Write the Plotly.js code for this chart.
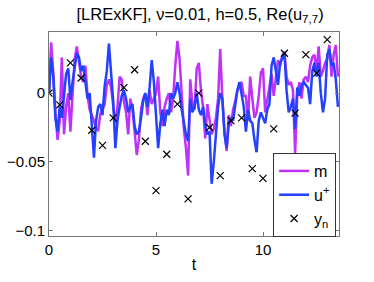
<!DOCTYPE html>
<html><head><meta charset="utf-8">
<script src="https://cdn.plot.ly/plotly-3.0.1.min.js"></script>
<style>body{margin:0;padding:0;background:#fff}#chart{width:374px;height:282px}</style>
</head><body><div id="chart"></div>
<script>
// time grid for the two estimates (step 0.1)
const tLine = [0.0,0.1,0.2,0.3,0.4,0.5,0.6,0.7,0.8,0.9,1.0,1.1,1.2,1.3,1.4,1.5,1.6,1.7,1.8,1.9,2.0,2.1,2.2,2.3,2.4,2.5,2.6,2.7,2.8,2.9,3.0,3.1,3.2,3.3,3.4,3.5,3.6,3.7,3.8,3.9,4.0,4.1,4.2,4.3,4.4,4.5,4.6,4.7,4.8,4.9,5.0,5.1,5.2,5.3,5.4,5.5,5.6,5.7,5.8,5.9,6.0,6.1,6.2,6.3,6.4,6.5,6.6,6.7,6.8,6.9,7.0,7.1,7.2,7.3,7.4,7.5,7.6,7.7,7.8,7.9,8.0,8.1,8.2,8.3,8.4,8.5,8.6,8.7,8.8,8.9,9.0,9.1,9.2,9.3,9.4,9.5,9.6,9.7,9.8,9.9,10.0,10.1,10.2,10.3,10.4,10.5,10.6,10.7,10.8,10.9,11.0,11.1,11.2,11.3,11.4,11.5,11.6,11.7,11.8,11.9,12.0,12.1,12.2,12.3,12.4,12.5,12.6,12.7,12.8,12.9,13.0,13.1,13.2,13.3,13.4,13.5];
// m (magenta)
const mVals = [0.000,0.037,0.015,-0.015,-0.034,-0.020,0.026,-0.030,-0.010,0.000,-0.028,-0.005,0.025,0.034,0.021,0.012,0.008,0.020,-0.002,-0.012,-0.016,-0.020,-0.026,
-0.027,-0.015,-0.012,-0.008,0.006,0.010,0.004,-0.008,-0.022,-0.010,0.012,0.010,-0.006,-0.014,-0.030,-0.004,-0.012,-0.028,-0.045,-0.034,-0.012,-0.004,0.000,
-0.016,0.002,-0.008,-0.004,0.000,0.012,-0.014,-0.024,-0.010,-0.004,0.000,-0.014,-0.004,0.020,0.038,0.025,-0.004,-0.026,-0.040,-0.060,0.010,-0.008,-0.012,0.018,
0.022,0.002,-0.010,-0.033,-0.008,-0.020,-0.030,-0.026,-0.018,-0.004,0.032,-0.004,-0.028,-0.042,-0.016,-0.024,-0.012,-0.006,0.002,0.006,0.008,-0.002,-0.002,
-0.020,0.012,-0.004,-0.018,-0.014,-0.002,0.015,0.018,-0.014,-0.004,0.006,0.014,-0.002,0.010,0.024,0.020,0.027,0.030,0.012,0.006,0.008,0.002,-0.044,
0.000,0.008,-0.004,0.010,0.012,0.008,0.020,0.026,0.028,0.016,0.034,0.012,0.016,0.022,0.025,0.035,0.012,0.028,0.035,0.012];
// u+ (blue)
const uVals = [0.000,0.026,0.012,-0.018,-0.028,-0.010,-0.018,-0.004,0.014,0.018,-0.005,0.008,0.020,0.029,0.026,0.016,0.020,0.008,-0.004,0.000,-0.022,-0.047,-0.020,
-0.010,-0.008,-0.016,0.005,0.016,0.036,0.012,-0.006,-0.040,-0.020,-0.010,-0.002,0.002,-0.004,-0.014,-0.010,-0.008,-0.024,-0.030,-0.028,-0.018,-0.006,0.000,
-0.010,0.004,0.024,0.008,-0.020,-0.040,-0.022,-0.012,-0.024,-0.012,-0.016,0.000,-0.004,0.000,0.008,0.000,-0.012,-0.022,-0.030,-0.035,-0.004,-0.014,-0.010,0.000,
-0.012,-0.016,-0.010,-0.024,-0.030,-0.028,-0.066,-0.050,-0.030,-0.010,0.000,-0.004,-0.030,-0.040,-0.022,-0.018,-0.020,-0.008,0.002,0.008,0.000,-0.010,-0.028,
-0.012,-0.020,-0.022,-0.034,-0.043,-0.020,-0.014,-0.018,-0.022,-0.012,-0.008,0.020,0.026,0.016,0.006,0.022,0.026,0.029,0.002,-0.014,-0.010,-0.004,-0.026,
0.004,-0.002,0.006,0.008,0.006,0.004,-0.008,0.016,0.022,0.012,0.022,0.000,-0.014,-0.004,0.028,0.032,0.020,0.022,0.010,-0.010];
// observations y_n
const tObs = [0,0.5,1,1.5,2,2.5,3,3.5,4,4.5,5,5.5,6,6.5,7,7.5,8,8.5,9,9.5,10,10.5,11,11.5,12,12.5,13];
const yObs = [0,-0.0085,0.022,0.011,-0.027,-0.038,-0.018,0.004,0.017,-0.035,-0.071,-0.0445,-0.008,-0.077,0.0,-0.025,-0.060,-0.020,-0.018,-0.055,-0.062,-0.026,0.029,-0.0146,0.028,0.0146,0.039];
const xTicks = [0,5,10];
const yTicks = [0,-0.05,-0.1];

const traces = [
  {x:tLine, y:mVals, type:'scatter', mode:'lines', name:'m', line:{color:'rgb(190,50,250)', width:2.5}},
  {x:tLine, y:uVals, type:'scatter', mode:'lines', name:'u<sup>+</sup>', line:{color:'rgb(35,65,255)', width:2.5}},
  {x:tObs, y:yObs, type:'scatter', mode:'markers', name:'y<sub>n</sub>', marker:{symbol:'x-thin-open', size:7, color:'#000', line:{width:1.2, color:'#000'}}}
];
const axisCommon = {showgrid:false, zeroline:false, showline:true, mirror:'ticks', linecolor:'#777', linewidth:1,
  ticks:'inside', ticklen:4, tickcolor:'#777', tickfont:{size:15, color:'#000'}};
const layout = {
  width:374, height:282,
  margin:{l:49, r:35, t:32, b:46},
  paper_bgcolor:'#fff', plot_bgcolor:'#fff',
  font:{family:'Liberation Sans, Arial, sans-serif', color:'#000'},
  title:{text:'[LRExKF], ν=0.01, h=0.5, Re(u<sub>7,7</sub>)', font:{size:16.5}, x:0.535, xanchor:'center', y:0.95, yanchor:'middle'},
  xaxis:Object.assign({}, axisCommon, {range:[0,13.55], tickvals:xTicks, ticktext:xTicks.map(String),
    title:{text:'t', font:{size:16}, standoff:1}}),
  yaxis:Object.assign({}, axisCommon, {range:[-0.104,0.0445], tickvals:yTicks, ticktext:['0','−0.05','−0.1']}),
  showlegend:true,
  legend:{x:0.99, xanchor:'right', y:-0.005, yanchor:'bottom', bgcolor:'#fff', bordercolor:'#333', borderwidth:1,
    font:{size:16}, tracegroupgap:0, itemwidth:30}
};
Plotly.newPlot('chart', traces, layout, {displayModeBar:false, staticPlot:true});
</script></body></html>
